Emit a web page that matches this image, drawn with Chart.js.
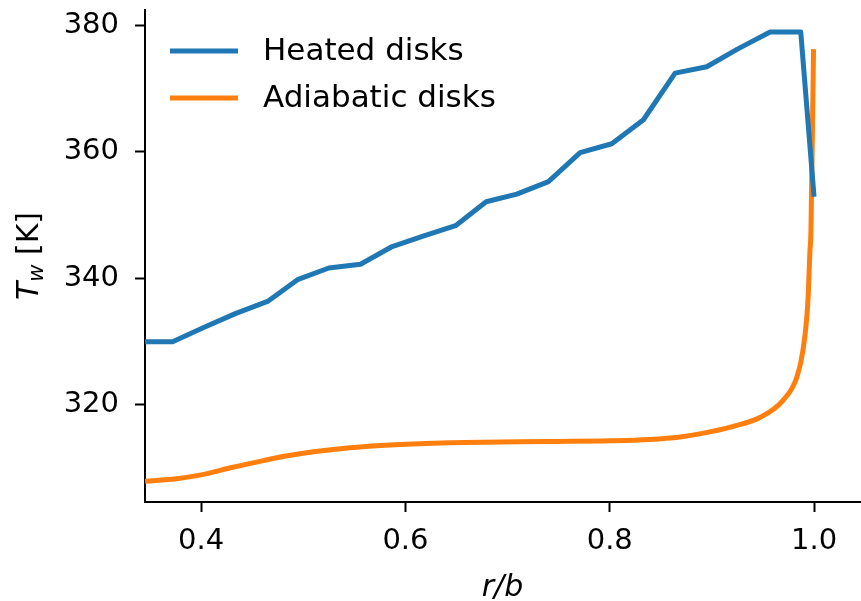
<!DOCTYPE html>
<html>
<head>
<meta charset="utf-8">
<script src="https://cdn.jsdelivr.net/npm/chart.js@4/dist/chart.umd.min.js"></script>
<style>
    html, body { margin: 0; padding: 0; background: #fff; }
    #wrap { width: 861px; height: 601px; }
</style>
</head>
<body>
<div id="wrap"><canvas id="chart"></canvas></div>
<script>
// ======================
// DATA
// ======================
const heatedR = [0.345, 0.372, 0.403, 0.434, 0.465, 0.495, 0.525, 0.556, 0.587, 0.618, 0.649,
                 0.679, 0.709, 0.740, 0.771, 0.802, 0.833, 0.864, 0.895, 0.925, 0.957, 0.987, 1.0];
const heatedT = [329.9, 329.9, 332.2, 334.4, 336.3, 339.8, 341.6, 342.2, 345.0, 346.7, 348.3,
                 352.1, 353.3, 355.3, 359.9, 361.3, 365.1, 372.5, 373.5, 376.3, 379.0, 379.0, 352.9];

const adiabR = [0.345, 0.376, 0.4, 0.431, 0.462, 0.480, 0.512, 0.546, 0.595, 0.644, 0.693, 0.741,
                0.8, 0.839, 0.869, 0.888, 0.921, 0.947, 0.969, 0.983, 0.989, 0.994, 0.996, 0.997, 0.9995];
const adiabT = [307.8, 308.2, 308.8, 310.0, 311.1, 311.7, 312.5, 313.1, 313.6, 313.9, 314.0, 314.1,
                314.2, 314.4, 314.8, 315.3, 316.5, 317.9, 320.5, 324.2, 328.4, 336.3, 344.3, 347.6, 376.3];

const xTicks = [0.4, 0.6, 0.8, 1.0];
const yTicks = [320, 340, 360, 380];

const seriesNames = ['Heated disks', 'Adiabatic disks'];
const seriesColors = ['#1f77b4', '#ff7f0e'];

const FONT = "'DejaVu Sans', sans-serif";

// legende dans la zone du graphe + titre de l'axe y avec indice
const overlay = {
    id: 'overlay',
    afterDraw(chart) {
        const ctx = chart.ctx;
        ctx.save();

        // legende
        chart.data.datasets.forEach((ds, i) => {
            const y = 51 + i * 47;
            ctx.strokeStyle = ds.borderColor;
            ctx.lineWidth = 5;
            ctx.beginPath();
            ctx.moveTo(170, y);
            ctx.lineTo(238, y);
            ctx.stroke();
            ctx.fillStyle = '#000';
            ctx.font = '31px ' + FONT;
            ctx.textBaseline = 'middle';
            ctx.textAlign = 'left';
            ctx.fillText(ds.label, 263, y + 1);
        });

        // T_w [K]
        const cx = 27, cy = 256;
        ctx.translate(cx, cy);
        ctx.rotate(-Math.PI / 2);
        ctx.textBaseline = 'alphabetic';
        ctx.textAlign = 'left';
        ctx.font = 'italic 30px ' + FONT;
        const wT = ctx.measureText('T').width;
        ctx.font = 'italic 21px ' + FONT;
        const wW = ctx.measureText('w').width;
        ctx.font = '30px ' + FONT;
        const wK = ctx.measureText(' [K]').width;
        let x = -(wT + wW + wK) / 2;
        const base = 11;
        ctx.fillStyle = '#000';
        ctx.font = 'italic 30px ' + FONT;
        ctx.fillText('T', x, base);
        x += wT;
        ctx.font = 'italic 21px ' + FONT;
        ctx.fillText('w', x, base + 5);
        x += wW;
        ctx.font = '30px ' + FONT;
        ctx.fillText(' [K]', x, base);

        ctx.restore();
    }
};

new Chart(document.getElementById('chart'), {
    type: 'line',
    data: {
        datasets: [
            {
                label: seriesNames[0],
                data: heatedR.map((r, i) => ({ x: r, y: heatedT[i] })),
                borderColor: seriesColors[0],
                borderWidth: 5,
                pointRadius: 0,
                tension: 0,
                borderJoinStyle: 'round'
            },
            {
                label: seriesNames[1],
                data: adiabR.map((r, i) => ({ x: r, y: adiabT[i] })),
                borderColor: seriesColors[1],
                borderWidth: 5,
                pointRadius: 0,
                cubicInterpolationMode: 'monotone'
            }
        ]
    },
    options: {
        responsive: true,
        maintainAspectRatio: false,
        animation: false,
        layout: { padding: { top: 10, right: 1, left: 0, bottom: 0 } },
        plugins: {
            legend: { display: false },
            tooltip: { enabled: false }
        },
        scales: {
            x: {
                type: 'linear',
                min: 0.345,
                max: 1.045,
                afterBuildTicks: s => { s.ticks = xTicks.map(v => ({ value: v })); },
                afterFit: s => { s.height = 99; s.paddingLeft = 0; s.paddingRight = 0; },
                grid: { drawOnChartArea: false, tickLength: 10, tickWidth: 2, tickColor: '#000' },
                border: { color: '#000', width: 2 },
                ticks: {
                    color: '#000',
                    font: { family: FONT, size: 29 },
                    padding: 12,
                    maxRotation: 0,
                    callback: v => Number(v).toFixed(1)
                },
                title: {
                    display: true,
                    text: 'r/b',
                    color: '#000',
                    font: { family: FONT, size: 30, style: 'italic' },
                    padding: { top: 0, bottom: -5 }
                }
            },
            y: {
                min: 304.5,
                max: 382.5,
                afterBuildTicks: s => { s.ticks = yTicks.map(v => ({ value: v })); },
                afterFit: s => { s.width = 145; s.paddingTop = 0; s.paddingBottom = 0; },
                grid: { drawOnChartArea: false, tickLength: 10, tickWidth: 2, tickColor: '#000' },
                border: { color: '#000', width: 2 },
                ticks: {
                    color: '#000',
                    font: { family: FONT, size: 29 },
                    padding: 16,
                    callback: v => String(v)
                }
            }
        }
    },
    plugins: [overlay]
});
</script>
</body>
</html>
